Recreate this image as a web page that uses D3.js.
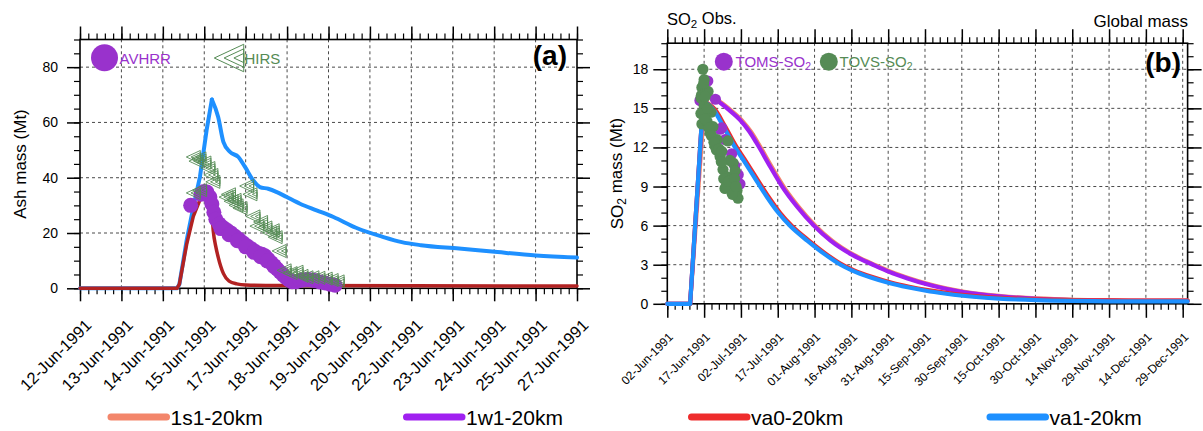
<!DOCTYPE html>
<html>
<head>
<meta charset="utf-8">
<script src="https://cdn.jsdelivr.net/npm/d3@7"></script>
<style>
  body { margin: 0; background: #fff; }
  svg { display: block; }
  text { font-family: "Liberation Sans", Arial, Helvetica, sans-serif; fill: #000; }
</style>
</head>
<body>
<svg id="fig" width="1203" height="431"></svg>
<script>
// ---------------- Panel (a): ash mass, days after 12-Jun-1991 00 UTC ----------------
const ashStart = Date.UTC(1991, 5, 12);
const va1AshDay = [0, 2.93, 3.0, 3.22, 3.42, 3.62, 3.82, 3.98, 4.17, 4.33, 4.53, 4.78, 4.98, 5.23, 5.43, 5.68, 5.94, 6.24, 6.64, 7.14, 7.65, 8.33, 9.14, 9.71, 10.29, 11.44, 12.6, 13.76, 15];
const va1AshMt  = [0, 0, 1.5, 17.4, 29.4, 40.3, 57.1, 68.3, 62, 52.9, 49.3, 47.5, 43.9, 39, 36.6, 36, 34.8, 33, 30.6, 28.2, 25.8, 21.9, 18.6, 16.7, 15.6, 14.4, 13.1, 11.9, 11.1];
const va0AshDay = [0, 2.93, 3.0, 3.22, 3.42, 3.62, 3.8, 3.95, 4.02, 4.1, 4.17, 4.33, 4.5, 4.73, 5.0, 6.0, 10, 15];
const va0AshMt  = [0, 0, 1.5, 16, 26, 32, 34, 33, 21, 15, 11.3, 5.3, 2.6, 1.6, 1.2, 1.0, 0.9, 0.85];
const avhrrDay = [3.34, 3.65, 3.74, 3.83, 3.92, 3.98, 4.04, 4.10, 4.20, 4.32, 4.44, 4.56, 4.68, 4.80, 4.92, 5.04, 5.16, 5.28, 5.40, 5.49, 5.58, 5.67, 5.77, 5.86, 5.95, 6.04, 6.13, 6.22, 6.31, 6.40, 6.52, 6.64, 6.76, 6.88, 7.0, 7.12, 7.24, 7.4, 7.55, 7.7,
                  4.25, 4.5, 4.75, 5.0, 5.25, 5.45, 5.65, 5.85];
const avhrrMt  = [30.0, 34.0, 35.0, 34.8, 33.0, 30.5, 27.5, 25.0, 23.3, 22.0, 21.0, 20.0, 18.8, 17.7, 16.5, 15.4, 14.4, 13.4, 12.6, 12.3, 11.8, 10.6, 9.3, 8.2, 7.0, 5.9, 4.8, 3.8, 3.0, 2.4, 2.4, 2.8, 3.1, 3.2, 3.0, 2.7, 2.3, 1.9, 1.5, 1.1,
                  21.6, 19.4, 17.2, 15.0, 13.0, 11.4, 9.9, 7.9];
const hirsDay = [3.42, 3.59, 3.74, 3.86, 3.95, 4.01, 3.42, 3.61, 4.41, 4.56, 4.71, 4.83, 5.03, 5.13, 5.22, 5.34, 5.58, 5.73, 5.89, 6.01, 6.16, 6.34, 6.52, 6.67, 6.82, 7.0, 7.18, 7.4, 7.58, 7.76,
                 3.5, 4.48, 4.65, 5.45, 5.8];
const hirsMt  = [47.5, 47.0, 45.5, 43.5, 41.0, 38.5, 34.5, 35.5, 33.0, 31.5, 30.0, 29.0, 37.0, 34.0, 26.0, 22.5, 22.0, 20.0, 18.5, 13.5, 6.5, 5.5, 6.0, 4.5, 4.0, 4.0, 3.8, 3.5, 3.0, 2.5,
                 46.0, 34.0, 32.0, 24.0, 21.0];
const ashYTicks = [0, 20, 40, 60, 80];

// ---------------- Panel (b): SO2 mass, days after 02-Jun-1991 00 UTC ----------------
const so2Start = Date.UTC(1991, 5, 2);
const s1So2Day = [0, 9.3, 15.4, 18.1, 20.8, 25.6, 30.3, 34.1, 37.1, 42.6, 47.4, 53.5, 60.3, 67.1, 76.0, 84.6, 91.0, 98.5, 106.0, 113.5, 121.0, 135.9, 150.9, 166.2, 181.2, 196.6, 212];
const s1So2Mt  = [0, 0, 16.1, 15.9, 15.6, 14.9, 14.1, 13.2, 12.3, 10.5, 9.0, 7.45, 6.0, 4.85, 3.75, 2.98, 2.47, 1.97, 1.54, 1.19, 0.92, 0.6, 0.41, 0.31, 0.27, 0.25, 0.25];
const w1So2Day = [0, 9.3, 14.8, 17.5, 20.2, 25.0, 29.7, 33.5, 36.5, 42.0, 46.8, 52.9, 59.7, 66.5, 75.4, 84.0, 90.4, 97.9, 105.4, 112.9, 120.4, 135.3, 150.3, 165.6, 180.6, 196, 212];
const w1So2Mt  = [0, 0, 16.1, 15.9, 15.6, 14.9, 14.1, 13.2, 12.3, 10.5, 9.0, 7.45, 6.0, 4.85, 3.75, 2.98, 2.45, 1.95, 1.52, 1.17, 0.9, 0.57, 0.38, 0.28, 0.24, 0.22, 0.22];
const va0So2Day = [0, 9.3, 14.6, 19.5, 23.6, 27.7, 32.5, 37.2, 41.3, 46.1, 50.9, 57.7, 64.5, 71.3, 76.1, 83.6, 91.1, 98.6, 106.1, 113.6, 121.1, 136, 151, 166.3, 181.3, 196.7, 212];
const va0So2Mt  = [0, 0, 15.6, 14.9, 13.6, 12.2, 10.8, 9.4, 8.2, 6.95, 5.95, 4.85, 3.85, 3.0, 2.57, 2.05, 1.63, 1.31, 1.05, 0.84, 0.67, 0.45, 0.34, 0.28, 0.26, 0.25, 0.25];
const va1So2Day = [0, 9.3, 14.6, 18.8, 22.9, 27.0, 31.8, 36.5, 40.6, 45.4, 50.2, 57.0, 63.8, 70.6, 75.4, 82.9, 90.4, 97.9, 105.4, 112.9, 120.4, 135.3, 150.3, 165.6, 180.6, 196, 212];
const va1So2Mt  = [0, 0, 15.6, 14.9, 13.6, 12.2, 10.8, 9.4, 8.2, 6.95, 5.95, 4.85, 3.85, 3.0, 2.55, 2.02, 1.6, 1.27, 1.0, 0.79, 0.62, 0.4, 0.28, 0.22, 0.19, 0.18, 0.18];
const tomsDay = [13.3, 16.5, 19.6, 21.5, 22.2, 23.5, 26.2, 27.5, 28.9, 29.6];
const tomsMt  = [15.6, 17.1, 15.7, 13.4, 13.5, 12.6, 11.5, 10.6, 9.9, 9.2];
const tovsDay = [14.5, 15.0, 14.1, 16.6, 13.7, 15.0, 13.7, 14.1, 16.2, 17.8, 17.4, 18.6, 19.4, 20.3, 21.5, 22.7, 24.3, 23.5, 26.0, 26.8, 28.4, 28.8, 24.7, 27.6, 25.5,
                 14.8, 13.9, 15.4, 16.4, 15.3, 16.9, 18.0, 19.0, 20.0, 21.0, 22.0, 22.2, 23.0, 24.0, 25.0, 26.5, 27.4, 28.0];
const tovsMt  = [18.0, 17.2, 16.6, 16.3, 15.8, 15.2, 14.6, 13.8, 14.0, 14.7, 13.1, 13.6, 12.1, 12.6, 11.3, 10.3, 9.75, 8.85, 9.25, 10.8, 8.7, 8.1, 12.5, 10.2, 11.0,
                 16.9, 16.0, 15.9, 15.0, 14.2, 13.5, 12.9, 12.4, 11.8, 11.9, 10.9, 11.7, 9.6, 9.0, 9.4, 8.4, 9.6, 9.0];
const so2YTicks = [0, 3, 6, 9, 12, 15, 18];

// ---------------- Legend ----------------
const runNames  = ["1s1-20km", "1w1-20km", "va0-20km", "va1-20km"];
const runColors = ["#f3866b", "#a020f0", "#ee2c2c", "#1e90ff"];

const DAY = 86400e3;
const toDate = (start, d) => new Date(start + d * DAY);
const fmt = d3.utcFormat("%d-%b-%Y");
const svg = d3.select("#fig");
const GRID = "#4a4a4a", PURPLE = "#9932cc", GREEN = "#558b55";

function drawFrame(p) {
  const g = svg.append("g");
  const [xa, xb] = p.x.range(), [yb, ya] = p.y.range();
  // dashed grid on interior major ticks
  g.append("g").selectAll("line")
    .data(p.xMajor.filter(d => p.x(d) > xa + 1 && p.x(d) < xb - 1))
    .join("line")
    .attr("x1", d => p.x(d)).attr("x2", d => p.x(d)).attr("y1", yb).attr("y2", ya)
    .attr("stroke", GRID).attr("stroke-dasharray", "3,3");
  g.append("g").selectAll("line")
    .data(p.yMajor.filter(v => v > 0))
    .join("line")
    .attr("x1", xa).attr("x2", xb).attr("y1", d => p.y(d)).attr("y2", d => p.y(d))
    .attr("stroke", GRID).attr("stroke-dasharray", "3,3");

  const style = (sel, w) => {
    sel.select(".domain").remove();
    sel.selectAll("line").attr("stroke", "#000").attr("stroke-width", w);
    sel.attr("font-family", null).attr("font-size", null);
  };
  const big = p.tickLen, small = 6;
  // minor ticks on all sides
  g.append("g").attr("transform", `translate(0,${yb})`)
    .call(d3.axisBottom(p.x).tickValues(p.xMinor).tickSize(small).tickFormat("")).call(style, 1.2);
  g.append("g").attr("transform", `translate(0,${ya})`)
    .call(d3.axisTop(p.x).tickValues(p.xMinor).tickSize(small).tickFormat("")).call(style, 1.2);
  g.append("g").attr("transform", `translate(${xa},0)`)
    .call(d3.axisLeft(p.y).tickValues(p.yMinor).tickSize(small).tickFormat("")).call(style, 1.2);
  g.append("g").attr("transform", `translate(${xb},0)`)
    .call(d3.axisRight(p.y).tickValues(p.yMinor).tickSize(small).tickFormat("")).call(style, 1.2);
  // major ticks
  const bx = g.append("g").attr("transform", `translate(0,${yb})`)
    .call(d3.axisBottom(p.x).tickValues(p.xMajor).tickSize(big).tickFormat(fmt)).call(style, 1.5);
  bx.selectAll("text")
    .attr("x", null).attr("y", null).attr("dy", null)
    .attr("text-anchor", "end")
    .attr("font-size", p.xFont)
    .attr("transform", `translate(${p.xLab[0]},${p.xLab[1]}) rotate(-45)`);
  g.append("g").attr("transform", `translate(0,${ya})`)
    .call(d3.axisTop(p.x).tickValues(p.xMajor).tickSize(big).tickFormat("")).call(style, 1.5);
  const ly = g.append("g").attr("transform", `translate(${xa},0)`)
    .call(d3.axisLeft(p.y).tickValues(p.yMajor).tickSize(big).tickPadding(p.yPad).tickFormat(d3.format("d"))).call(style, 1.5);
  ly.selectAll("text").attr("font-size", p.yFont);
  g.append("g").attr("transform", `translate(${xb},0)`)
    .call(d3.axisRight(p.y).tickValues(p.yMajor).tickSize(big).tickFormat("")).call(style, 1.5);
  // plot border
  g.append("rect").attr("x", xa).attr("y", ya).attr("width", xb - xa).attr("height", yb - ya)
    .attr("fill", "none").attr("stroke", "#000").attr("stroke-width", 1.6);
  return g;
}

function series(start, days, vals) {
  return days.map((d, i) => ({ t: toDate(start, d), v: vals[i] }));
}

// a model run: straight onset up to its maximum, smooth decay afterwards
function drawRun(x, y, pts, color, width) {
  const k = d3.maxIndex(pts, d => d.v);
  const lin = d3.line().x(d => x(d.t)).y(d => y(d.v));
  const smooth = d3.line().curve(d3.curveMonotoneX).x(d => x(d.t)).y(d => y(d.v));
  const g = svg.append("g").attr("fill", "none").attr("stroke", color)
    .attr("stroke-width", width).attr("stroke-linejoin", "round").attr("stroke-linecap", "round");
  g.append("path").attr("d", lin(pts.slice(0, k + 1)));
  g.append("path").attr("d", smooth(pts.slice(k)));
}

// HIRS glyph: left-pointing triangle with two nested copies sharing the right edge
function hirsPath(cx, cy, w, h) {
  const rx = cx + w / 2;
  return [1, 2 / 3, 1 / 3].map(k =>
    `M${rx - k * w},${cy}L${rx},${cy - k * h / 2}L${rx},${cy + k * h / 2}Z`).join("");
}

// ================= Panel (a) =================
const xA = d3.scaleUtc().domain([toDate(ashStart, 0), toDate(ashStart, 15)]).range([80, 577]);
const yA = d3.scaleLinear().domain([0, 90]).range([288.3, 39.5]);
drawFrame({
  x: xA, y: yA,
  xMajor: d3.range(0, 13).map(i => toDate(ashStart, i * 1.25)),
  xMinor: d3.range(0, 61).map(i => toDate(ashStart, i * 0.25)),
  yMajor: ashYTicks, yMinor: d3.range(0, 91, 5),
  tickLen: 13, xFont: "16.5px", xLab: [12, 38], yFont: "14px", yPad: 9
});
drawRun(xA, yA, series(ashStart, va1AshDay, va1AshMt), "#1e90ff", 4);
drawRun(xA, yA, series(ashStart, va0AshDay, va0AshMt), "#b22222", 3.5);
svg.append("g").selectAll("circle").data(series(ashStart, avhrrDay, avhrrMt)).join("circle")
  .attr("cx", d => xA(d.t)).attr("cy", d => yA(d.v)).attr("r", 7.5).attr("fill", PURPLE);
svg.append("g").selectAll("path").data(series(ashStart, hirsDay, hirsMt)).join("path")
  .attr("d", d => hirsPath(xA(d.t), yA(d.v), 14, 13))
  .attr("fill", "none").attr("stroke", GREEN).attr("stroke-width", 0.9);

// observation key (a)
svg.append("circle").attr("cx", 104.5).attr("cy", 57.7).attr("r", 13.5).attr("fill", PURPLE);
svg.append("text").attr("x", 119.5).attr("y", 64).attr("font-size", "15px").style("fill", PURPLE).text("AVHRR");
svg.append("path").attr("d", hirsPath(229, 58, 29.5, 27.5)).attr("fill", "none").attr("stroke", GREEN).attr("stroke-width", 1);
svg.append("text").attr("x", 244.5).attr("y", 64).attr("font-size", "15px").style("fill", GREEN).text("HIRS");
svg.append("text").attr("x", 567).attr("y", 65).attr("text-anchor", "end")
  .attr("font-size", "28px").attr("font-weight", "bold").text("(a)");
svg.append("text").attr("transform", "translate(20,164) rotate(-90)").attr("dy", "0.35em")
  .attr("text-anchor", "middle").attr("font-size", "17px").text("Ash mass (Mt)");

// ================= Panel (b) =================
const xB = d3.scaleUtc().domain([toDate(so2Start, 0), toDate(so2Start, 212)]).range([667.3, 1187.6]);
const yB = d3.scaleLinear().domain([0, 20]).range([303.8, 43.2]);
drawFrame({
  x: xB, y: yB,
  xMajor: d3.range(0, 15).map(i => toDate(so2Start, i * 15)),
  xMinor: d3.range(0, 71).map(i => toDate(so2Start, i * 3)),
  yMajor: so2YTicks, yMinor: d3.range(0, 21, 1),
  tickLen: 14, xFont: "12px", xLab: [6, 34], yFont: "14px", yPad: 5
});
const so2Runs = [[s1So2Day, s1So2Mt], [w1So2Day, w1So2Mt], [va0So2Day, va0So2Mt], [va1So2Day, va1So2Mt]];
so2Runs.forEach(([dd, vv], i) => drawRun(xB, yB, series(so2Start, dd, vv), runColors[i], 4.2));
svg.append("g").selectAll("circle").data(series(so2Start, tomsDay, tomsMt)).join("circle")
  .attr("cx", d => xB(d.t)).attr("cy", d => yB(d.v)).attr("r", 5.6).attr("fill", PURPLE);
svg.append("g").selectAll("circle").data(series(so2Start, tovsDay, tovsMt)).join("circle")
  .attr("cx", d => xB(d.t)).attr("cy", d => yB(d.v)).attr("r", 5.6).attr("fill", GREEN);

// observation key (b)
function so2Label(x, y, size, color, name, tail) {
  const t = svg.append("text").attr("x", x).attr("y", y).attr("font-size", size).style("fill", color);
  t.append("tspan").text(name + "SO");
  t.append("tspan").attr("font-size", "0.7em").attr("dy", "0.25em").text("2");
  if (tail) t.append("tspan").attr("dy", "-0.25em").text(tail);
  return t;
}
svg.append("circle").attr("cx", 723.8).attr("cy", 61.7).attr("r", 9).attr("fill", PURPLE);
so2Label(735.5, 67, "15px", PURPLE, "TOMS-");
svg.append("circle").attr("cx", 828.8).attr("cy", 61.7).attr("r", 9).attr("fill", GREEN);
so2Label(839.5, 67, "15px", GREEN, "TOVS-");
svg.append("text").attr("x", 1181).attr("y", 72).attr("text-anchor", "end")
  .attr("font-size", "28px").attr("font-weight", "bold").text("(b)");
so2Label(667, 25, "16.5px", "#000", "", " Obs.");
svg.append("text").attr("x", 1188).attr("y", 26.5).attr("text-anchor", "end").attr("font-size", "17px").text("Global mass");
const yt = svg.append("text").attr("transform", "translate(617,173.5) rotate(-90)").attr("dy", "0.35em")
  .attr("text-anchor", "middle").attr("font-size", "17px");
yt.append("tspan").text("SO");
yt.append("tspan").attr("font-size", "0.7em").attr("dy", "0.25em").text("2");
yt.append("tspan").attr("dy", "-0.25em").text(" mass (Mt)");

// ================= Run legend =================
const legX = [107.5, 403, 688, 986.5];
const lg = svg.append("g").selectAll("g").data(runNames).join("g")
  .attr("transform", (d, i) => `translate(${legX[i]},417)`);
lg.append("line").attr("x1", 3.5).attr("x2", 59).attr("y1", 0).attr("y2", 0)
  .attr("stroke", (d, i) => runColors[i]).attr("stroke-width", 7).attr("stroke-linecap", "round");
lg.append("text").attr("x", 63).attr("y", 7.5).attr("font-size", "21px").text(d => d);
</script>
</body>
</html>
